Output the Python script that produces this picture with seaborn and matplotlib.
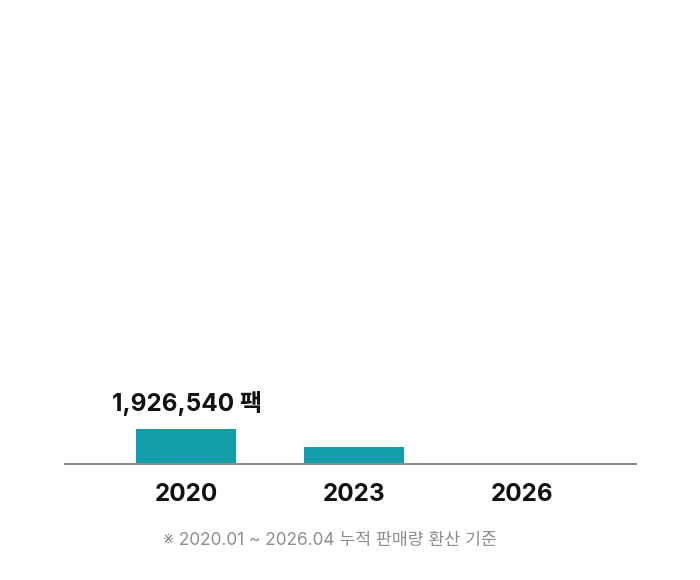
import matplotlib
matplotlib.use("Agg")
import matplotlib.pyplot as plt
import seaborn as sns
import pandas as pd

years = ["2020", "2023", "2026"]
packs = [1926540, 935000, 0]
label_unit = "팩"
footnote = "※ 2020.01 ~ 2026.04 누적 판매량 환산 기준"

sns.set_theme(style="white")
plt.rcParams['font.family'] = ['Inter', 'Noto Sans CJK KR', 'DejaVu Sans']

df = pd.DataFrame({"year": years, "packs": packs})

fig = plt.figure(figsize=(7, 5.8), dpi=100)
ax = fig.add_axes([65/700, 116/580, 571/700, 444/580])

sns.barplot(data=df, x="year", y="packs", color="#119EA8", saturation=1,
            width=0.595, linewidth=0, ax=ax)

ax.set_xlim(-0.72, 2.68)
ax.set_ylim(0, packs[0] * 444 / 35)

for s in ["top", "right", "left"]:
    ax.spines[s].set_visible(False)
ax.spines["bottom"].set_color("#8c8c8c")
ax.spines["bottom"].set_linewidth(1.5)
ax.set_yticks([])
ax.set_xlabel("")
ax.set_ylabel("")
ax.tick_params(axis="x", length=0, pad=14, labelsize=17.5, labelcolor="#111111")
for t in ax.get_xticklabels():
    t.set_fontweight("bold")

ax.annotate(f"{packs[0]:,} {label_unit}", xy=(0, packs[0]), xytext=(1, 9),
            textcoords="offset points", ha="center", va="bottom",
            fontsize=17.5, fontweight="bold", color="#111111")

fig.text(330/700, 1 - 541/580, footnote, ha="center", va="center",
         fontsize=12.4, color="#8e8e8e")

fig.savefig("out.png", dpi=100, facecolor="white")
